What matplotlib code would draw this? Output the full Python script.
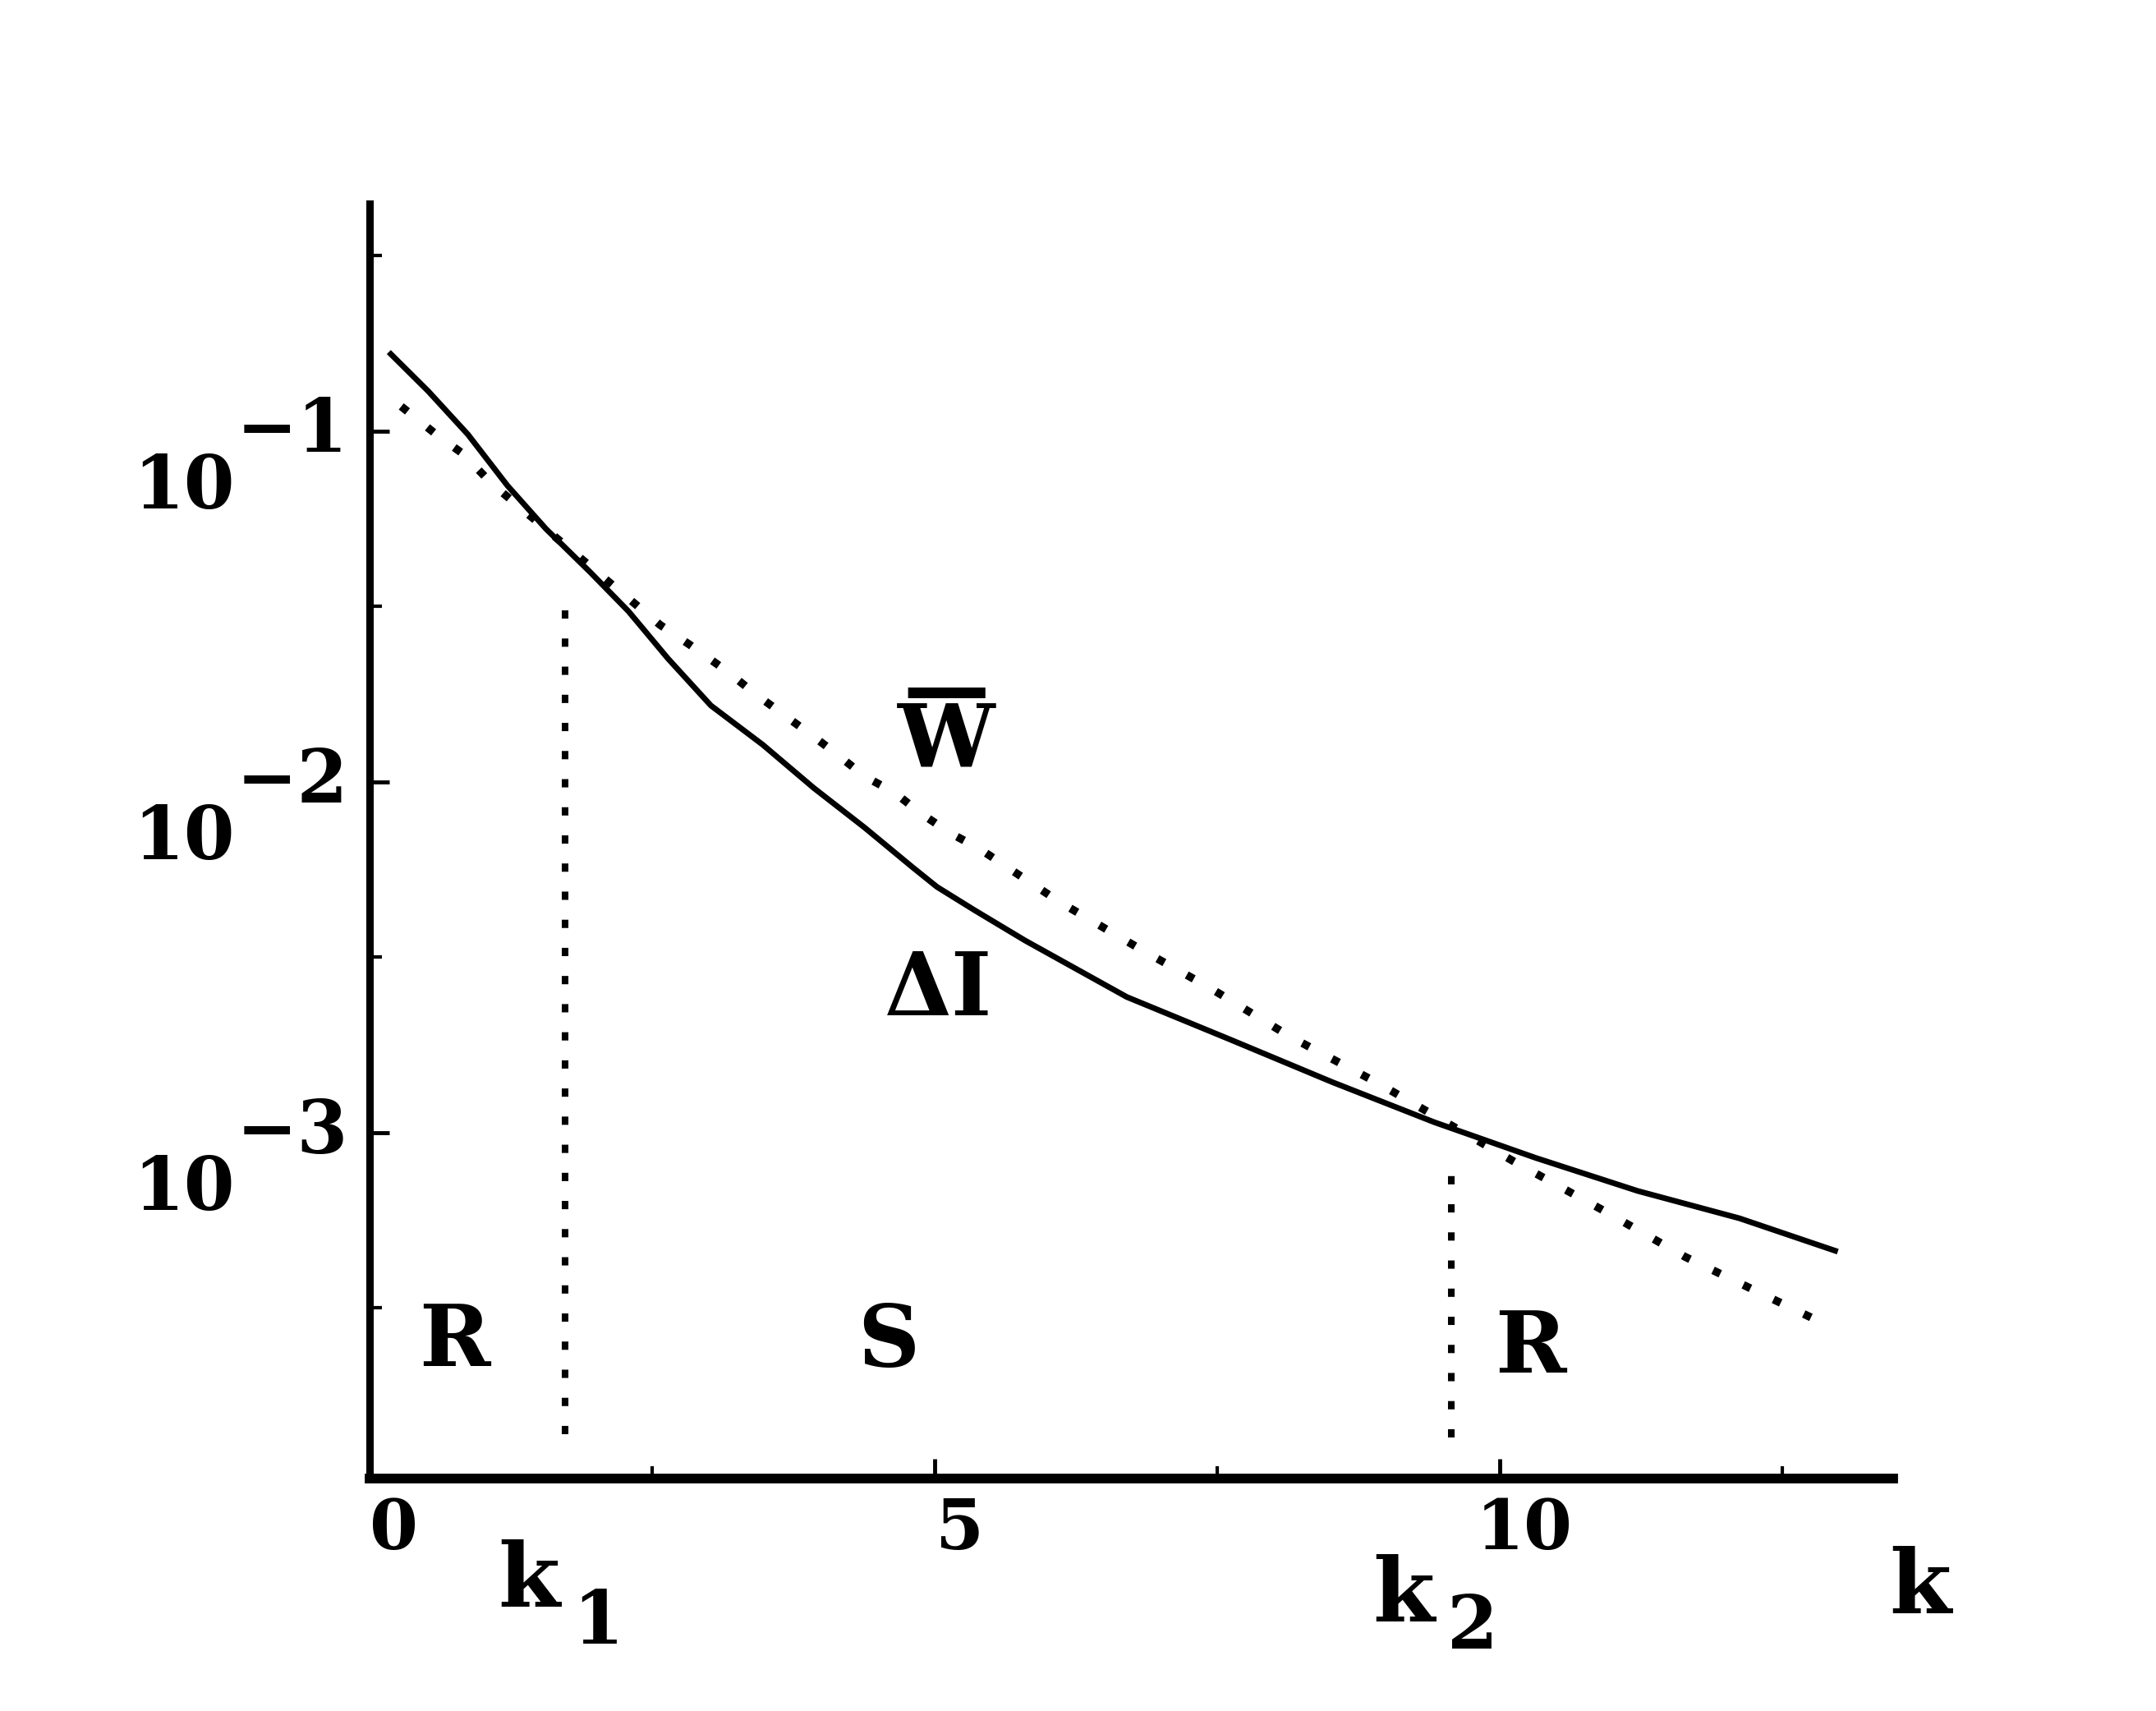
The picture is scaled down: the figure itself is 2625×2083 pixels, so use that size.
import numpy as np
import matplotlib
matplotlib.use("Agg")
import matplotlib.pyplot as plt
from matplotlib.ticker import FixedLocator, NullFormatter

plt.rcParams['font.family'] = ['DejaVu Serif']

# ---- data (log10 values) ----
k_dI = [0.17, 0.52, 0.87, 1.22, 1.56, 1.95, 2.29, 2.64, 3.02, 3.48, 3.93, 4.38,
        4.80, 5.02, 5.35, 5.80, 6.70, 7.62, 8.52, 9.42, 10.32, 11.22, 12.12, 12.99]
log_dI = [-0.775, -0.887, -1.010, -1.156, -1.279, -1.402, -1.514, -1.649, -1.783, -1.895,
          -2.018, -2.131, -2.243, -2.300, -2.366, -2.453, -2.614, -2.736, -2.857, -2.971,
          -3.073, -3.167, -3.245, -3.340]

k_W = [0.28, 0.59, 0.83, 1.08, 2.57, 2.83, 3.15, 3.39, 3.65, 3.89, 4.14, 4.38, 4.64,
       4.88, 5.14, 5.39, 6.11, 6.86, 7.43, 8.15, 8.93, 10.13, 10.89, 11.64, 12.40, 12.93]
log_W = [-0.93, -1.01, -1.066, -1.15, -1.553, -1.609, -1.682, -1.744, -1.806, -1.862,
         -1.923, -1.985, -2.03, -2.091, -2.147, -2.19, -2.344, -2.485, -2.587, -2.728,
         -2.861, -3.084, -3.218, -3.355, -3.473, -3.555]

k1 = 1.73
k1_span = [-3.86, -1.47]
k2 = 9.57
k2_span = [-3.87, -3.12]

x_major = [5, 10]
x_minor = [2.5, 7.5, 12.5]
x_labels = ['0', '5', '10']
x_label_pos = [0, 5, 10]
y_decades = [-1, -2, -3]
y_half = [-0.5, -1.5, -2.5, -3.5]
y_exp_labels = ['\u22121', '\u22122', '\u22123']

regions = ['R', 'S', 'R']
region_k = [0.75, 4.59, 10.27]
region_log = [-3.667, -3.669, -3.684]

# ---- figure ----
fig = plt.figure(figsize=(26.25, 20.83), dpi=100)
ax = fig.add_axes([450/2625, 1-1800/2083, (2305-450)/2625, (1800-248)/2083])
ax.set_yscale('log')
ax.set_xlim(0, 13.48)
ax.set_ylim(10**-3.987, 10**-0.352)

for s in ['top', 'right']:
    ax.spines[s].set_visible(False)
ax.spines['left'].set_linewidth(6.5)
ax.spines['bottom'].set_linewidth(8.5)
ax.spines['left'].set_capstyle('projecting')
ax.spines['bottom'].set_capstyle('projecting')

ax.xaxis.set_major_locator(FixedLocator(x_major))
ax.xaxis.set_minor_locator(FixedLocator(x_minor))
ax.yaxis.set_major_locator(FixedLocator([10.0**d for d in y_decades]))
ax.yaxis.set_minor_locator(FixedLocator([10.0**d for d in y_half]))
for a in (ax.xaxis, ax.yaxis):
    a.set_major_formatter(NullFormatter())
    a.set_minor_formatter(NullFormatter())
ax.tick_params(axis='both', which='major', direction='in', length=17, width=3.5, color='black')
ax.tick_params(axis='both', which='minor', direction='in', length=11, width=3, color='black')

# curves
ax.plot(k_dI, 10.0**np.array(log_dI), color='black', lw=5, solid_capstyle='butt',
        solid_joinstyle='round')
ax.plot(k_W, 10.0**np.array(log_W), color='black', lw=7, linestyle=(0, (1, 3.2)))

# region boundaries
ax.plot([k1, k1], 10.0**np.array(k1_span), color='black', lw=5.8, linestyle=(0, (1.25, 3.0)))
ax.plot([k2, k2], 10.0**np.array(k2_span), color='black', lw=5.8, linestyle=(0, (1.25, 3.0)))

bold = dict(fontweight='bold', family='DejaVu Serif', color='black')

# y tick labels
for d, e in zip(y_decades, y_exp_labels):
    ax.annotate('10', xy=(0, 10.0**d), xycoords=('axes fraction', 'data'),
                xytext=(-118, -68), textcoords='offset points',
                ha='right', va='baseline', fontsize=64, **bold)
    ax.annotate(e, xy=(0, 10.0**d), xycoords=('axes fraction', 'data'),
                xytext=(-19, -18.4), textcoords='offset points',
                ha='right', va='baseline', fontsize=64, **bold)

# x tick labels
for v, lab in zip(x_label_pos, x_labels):
    ax.annotate(lab, xy=(v, 0), xycoords=('data', 'axes fraction'),
                xytext=(21.6, -62), textcoords='offset points',
                ha='center', va='baseline', fontsize=61, **bold)

# k labels
def klabel(x, dy, s, size):
    ax.annotate(s, xy=(x, 0), xycoords=('data', 'axes fraction'),
                xytext=(0, dy), textcoords='offset points',
                ha='center', va='baseline', fontsize=size, **bold)

klabel(1.41, -113, 'k', 78)
klabel(2.02, -145, '1', 64)
klabel(9.15, -126, 'k', 78)
klabel(9.76, -149, '2', 64)
klabel(13.72, -119, 'k', 78)

# region labels
for s, kx, ly in zip(regions, region_k, region_log):
    ax.text(kx, 10.0**ly, s, ha='center', va='baseline', fontsize=75, **bold)

# curve labels (W with an over-bar as a single two-line text)
ax.text(5.10, 10.0**-1.96, '\u2014\nW', ha='center', va='baseline',
        multialignment='center', linespacing=0.5, fontsize=76, **bold)
ax.text(5.03, 10.0**-2.667, '\u0394I', ha='center', va='baseline', fontsize=76, **bold)

fig.savefig('out.png', dpi=100)
